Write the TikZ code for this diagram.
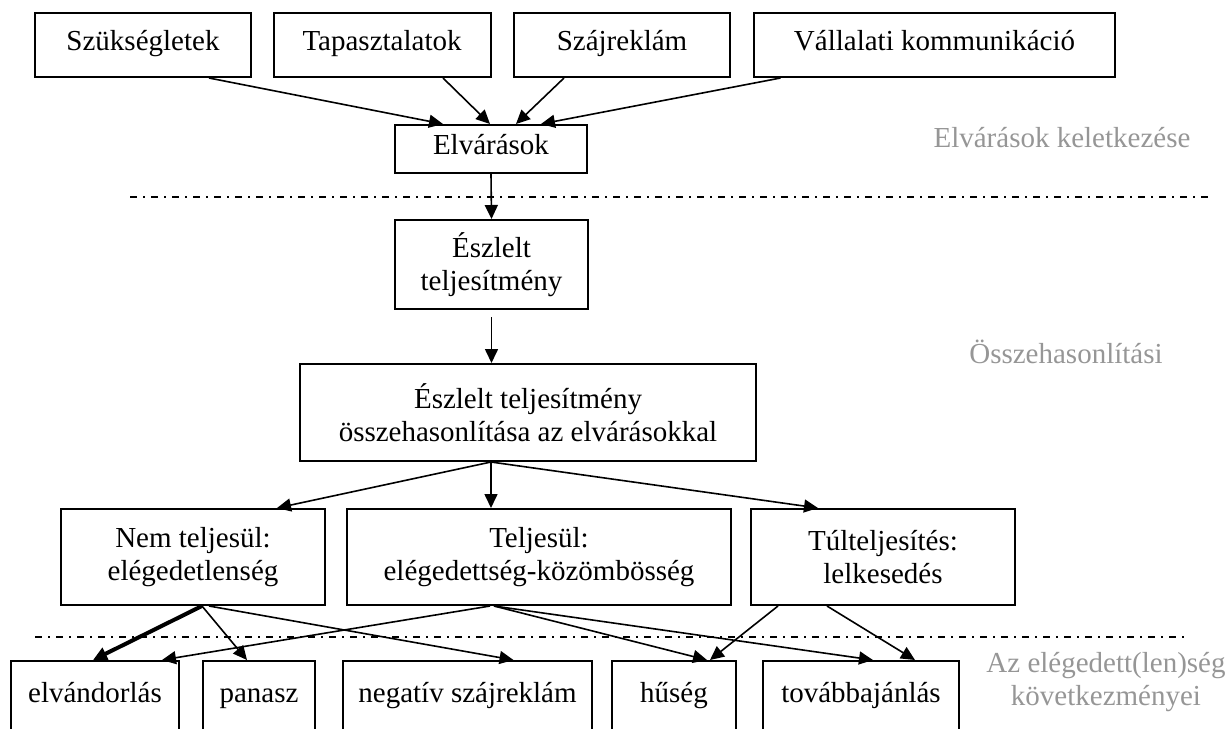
\documentclass[tikz,border=0pt]{standalone}
\usepackage{fontspec}
\setmainfont{Liberation Serif}
\usepackage{tikz}
\usetikzlibrary{positioning,arrows.meta}
\definecolor{LabelGray}{RGB}{150,150,150}
\tikzset{
    box_node/.style={rectangle, draw=black, line width=1pt, fill=white, align=center, inner sep=2pt, minimum height=32pt, font=\fontsize{14.5pt}{16.5pt}\selectfont},
    arrow_line/.style={-{Triangle[length=7pt,width=6.5pt]}, line width=0.8pt}
}

\begin{document}
\begin{tikzpicture}[
        x=0.5pt, y=-0.5pt,
        % --- STYLES ---
        oneline_node/.style={
            box_node,
            text height=9pt,
            text depth=4pt
        },
        twoline_node/.style={
            box_node,
            minimum height=48pt
        },
        bottom_node/.style={
            oneline_node,
            anchor=north,
            minimum height=36pt
        },
        thick_arrow/.style={
            arrow_line,
            line width=2pt
        },
        sep_line/.style={
            line width=0.6pt,
            dash pattern=on 3.5pt off 3pt on 1pt off 3pt
        },
        gray_label/.style={
            text=LabelGray,
            align=center,
            font=\fontsize{14.5pt}{16.5pt}\selectfont
        }
    ]
    \useasboundingbox (0,0) rectangle (1228,729);
    \clip (0,0) rectangle (1228,729);

    % --- SEPARATOR LINES ---
    \draw[sep_line] (130,197) -- (1213,197);
    \draw[sep_line] (35,637) -- (1187,637);

    % --- SOURCES ---
    \node[oneline_node, minimum width=108pt] (szuk) at (143,45) {Szükségletek};
    \node[oneline_node, minimum width=108.5pt] (tap) at (382,45) {Tapasztalatok};
    \node[oneline_node, minimum width=108pt] (szaj) at (622,45) {Szájreklám};
    \node[oneline_node, minimum width=180.5pt] (vall) at (934.5,45) {Vállalati kommunikáció};

    % --- EXPECTATIONS ---
    \node[oneline_node, minimum width=96pt, minimum height=24pt] (elv) at (491,149) {Elvárások};
    \node[box_node, minimum width=96.5pt, minimum height=44.5pt] (eszl) at (491.5,264.5) {Észlelt\\teljesítmény};
    \node[box_node, minimum width=228pt, minimum height=48.5pt] (osszeh) at (528,412.5) {Észlelt teljesítmény\\összehasonlítása az elvárásokkal};

    % --- OUTCOMES ---
    \node[twoline_node, minimum width=132pt] (nem) at (193,557) {Nem teljesül:\\elégedetlenség};
    \node[twoline_node, minimum width=192pt] (telj) at (539,557) {Teljesül:\\elégedettség-közömbösség};
    \node[twoline_node, minimum width=132pt] (tul) at (883,557) {Túlteljesítés:\\lelkesedés};

    % --- CONSEQUENCES ---
    \node[bottom_node, minimum width=84pt] (elvand) at (95,660) {elvándorlás};
    \node[bottom_node, minimum width=56pt] (panasz) at (259,660) {panasz};
    \node[bottom_node, minimum width=124.5pt] (negativ) at (467.5,660) {negatív szájreklám};
    \node[bottom_node, minimum width=62pt] (huseg) at (674,660) {hűség};
    \node[bottom_node, minimum width=98pt] (tovabb) at (861,660) {továbbajánlás};

    % --- PHASE LABELS ---
    \node[gray_label] (lab1) at (1062,138) {Elvárások keletkezése};
    \node[gray_label] (lab2) at (1066,352) {Összehasonlítási};
    \node[gray_label] (lab3) at (1106,682) {Az elégedett(len)ség\\következményei};

    % --- ARROWS ---
    \draw[arrow_line] ([xshift=33pt]szuk.south) -- ([xshift=-24pt]elv.north);
    \draw[arrow_line] ([xshift=30.5pt]tap.south) -- ([xshift=-0.5pt]elv.north);
    \draw[arrow_line] ([xshift=-29pt]szaj.south) -- ([xshift=12.5pt]elv.north);
    \draw[arrow_line] ([xshift=-77pt]vall.south) -- ([xshift=25pt]elv.north);
    \draw[arrow_line] (elv.south) -- (eszl.north);
    \draw[arrow_line, shorten <=3.5pt] (eszl.south) -- (eszl.south |- osszeh.north);

    \draw[arrow_line] ([xshift=-18.5pt]osszeh.south) -- ([xshift=42pt]nem.north);
    \draw[arrow_line] ([xshift=-18.5pt]osszeh.south) -- ([xshift=-24pt]telj.north);
    \draw[arrow_line] ([xshift=-18.5pt]osszeh.south) -- ([xshift=-32.5pt]tul.north);

    \draw[thick_arrow] ([xshift=4.5pt]nem.south) -- ([xshift=-1pt]elvand.north);
    \draw[arrow_line] ([xshift=4.5pt]nem.south) -- ([xshift=-6pt]panasz.north);
    \draw[arrow_line] ([xshift=8pt]nem.south) -- ([xshift=23pt]negativ.north);
    \draw[arrow_line] ([xshift=-24.5pt]telj.south) -- ([xshift=33.5pt]elvand.north);
    \draw[arrow_line] ([xshift=-22.5pt]telj.south) -- ([xshift=16.5pt]huseg.north);
    \draw[arrow_line] ([xshift=-22.5pt]telj.south) -- ([xshift=6pt]tovabb.north);
    \draw[arrow_line] ([xshift=-52.5pt]tul.south) -- ([xshift=18pt]huseg.north);
    \draw[arrow_line] ([xshift=-28pt]tul.south) -- ([xshift=27pt]tovabb.north);
\end{tikzpicture}
\end{document}
